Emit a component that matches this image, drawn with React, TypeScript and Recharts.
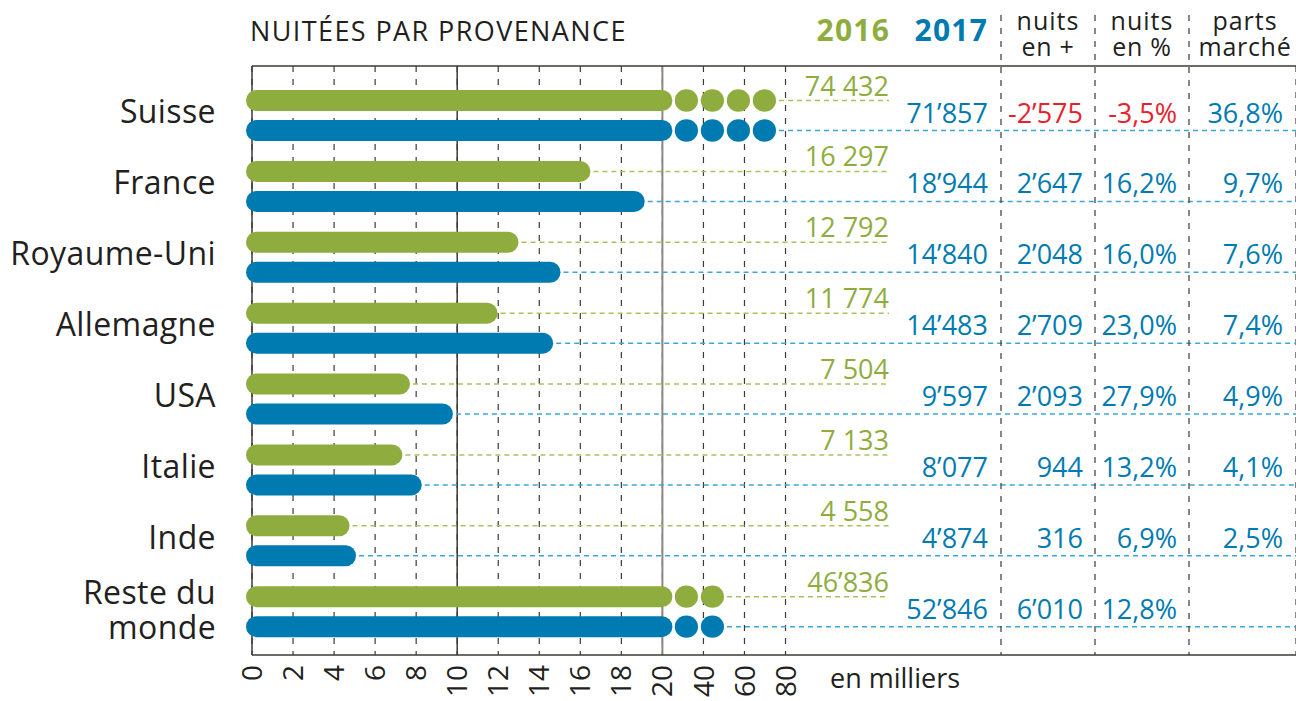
import React from 'react';
import { BarChart, Bar, XAxis, YAxis, CartesianGrid } from 'recharts';

// ---------- data ----------
const categories = ['Suisse', 'France', 'Royaume-Uni', 'Allemagne', 'USA', 'Italie', 'Inde', 'Reste du monde'];
const nights2016 = [74432, 16297, 12792, 11774, 7504, 7133, 4558, 46836];
const nights2017 = [71857, 18944, 14840, 14483, 9597, 8077, 4874, 52846];
const labels2016 = ['74 432', '16 297', '12 792', '11 774', '7 504', '7 133', '4 558', '46’836'];
const diffNights = [-2575, 2647, 2048, 2709, 2093, 944, 316, 6010];
const diffPct = [-3.5, 16.2, 16.0, 23.0, 27.9, 13.2, 6.9, 12.8];
const marketShare: (number | null)[] = [36.8, 9.7, 7.6, 7.4, 4.9, 4.1, 2.5, null];
const axisTicksK = [0, 2, 4, 6, 8, 10, 12, 14, 16, 18, 20, 40, 60, 80]; // thousands
const solidDarkK = [0, 10];
const solidGrayK = [20];

// ---------- styling ----------
const W = 1296;
const H = 701;
const GREEN = '#8fad3e';
const GREEN_LIGHT = '#a9c25e';
const BLUE = '#007bb1';
const BLUE_LIGHT = '#3aa7d6';
const RED = '#e8222c';
const DARK = '#231f20';
const LINE = '#3d3935';
const FONT = '"Open Sans", "Noto Sans", sans-serif';
const PLOT_LEFT = 252;
const PX_PER_UNIT = 20.52;
const DMAX = (W - PLOT_LEFT) / PX_PER_UNIT;
const BREAK = 20;

// broken axis: linear to 20k, then 1/10 scale
const tr = (k: number) => (k <= BREAK ? k : BREAK + (k - BREAK) / 10);

const fmtApos = (n: number) => {
  const s = Math.abs(n).toString();
  const parts: string[] = [];
  for (let i = s.length; i > 0; i -= 3) parts.unshift(s.slice(Math.max(0, i - 3), i));
  return (n < 0 ? '-' : '') + parts.join('’');
};
const fmtPct = (p: number) => p.toFixed(1).replace('.', ',') + '%';

const data = categories.map((name, i) => ({
  name,
  t2016: tr(nights2016[i] / 1000),
  t2017: tr(nights2017[i] / 1000),
  lab2016: labels2016[i],
  lab2017: fmtApos(nights2017[i]),
  diff: fmtApos(diffNights[i]),
  pct: fmtPct(diffPct[i]),
  neg: diffNights[i] < 0,
  share: marketShare[i] == null ? '' : fmtPct(marketShare[i] as number),
}));

const TICKS = axisTicksK.map(tr);

const PillBar = (props: any) => {
  const { x, y, width, height, payload, series } = props;
  const is16 = series === '2016';
  const tv: number = is16 ? payload.t2016 : payload.t2017;
  const color = is16 ? GREEN : BLUE;
  const cy = y + height / 2;
  const r = height / 2;
  const ppu = tv > 0 ? width / tv : 0;
  const xEnd = x + width;
  const left = x - 6;
  const shapes: React.ReactNode[] = [];
  let tailEnd: number;
  if (tv <= BREAK) {
    const right = xEnd + 4;
    shapes.push(<rect key="b" x={left} y={y} width={right - left} height={height} rx={r} ry={r} fill={color} />);
    tailEnd = right;
  } else {
    const x20 = x + BREAK * ppu;
    const barRight = x20 + 10;
    shapes.push(<rect key="b" x={left} y={y} width={barRight - left} height={height} rx={r} ry={r} fill={color} />);
    const step = 26;
    const n = Math.max(1, Math.round((xEnd - barRight) / step));
    for (let k = 0; k < n; k++) {
      shapes.push(<ellipse key={'d' + k} cx={barRight + 14 + k * step} cy={cy} rx={11.6} ry={11.2} fill={color} />);
    }
    tailEnd = barRight + 14 + (n - 1) * step + 11.6;
  }
  const leaderEnd = is16 ? 889 : W;
  const txt = (key: string, tx: number, s: string, fill: string) => (
    <text key={key} x={tx} y={cy - (is16 ? 5 : 8)} textAnchor="end" fill={fill} fontSize={27} fontFamily={FONT}>
      {s}
    </text>
  );
  return (
    <g>
      <line x1={tailEnd + 3} x2={leaderEnd} y1={cy} y2={cy} stroke={is16 ? GREEN_LIGHT : BLUE_LIGHT} strokeWidth={1.5} strokeDasharray="5 4" />
      {shapes}
      {is16
        ? txt('v', 889, payload.lab2016, GREEN)
        : [
            txt('v', 988, payload.lab2017, BLUE),
            txt('d', 1083, payload.diff, payload.neg ? RED : BLUE),
            txt('p', 1177, payload.pct, payload.neg ? RED : BLUE),
            txt('s', 1283, payload.share, BLUE),
          ]}
    </g>
  );
};

const CatTick = (props: any) => {
  const { y, payload } = props;
  const v: string = payload.value;
  const lines = v.length > 12 ? [v.slice(0, v.lastIndexOf(' ')), v.slice(v.lastIndexOf(' ') + 1)] : [v];
  if (lines.length === 1) {
    return (
      <text x={216} y={y + 8} textAnchor="end" fill={DARK} fontSize={32} fontFamily={FONT} letterSpacing={0.4}>
        {v}
      </text>
    );
  }
  return (
    <text x={216} y={y - 8} textAnchor="end" fill={DARK} fontSize={32} fontFamily={FONT} letterSpacing={0.4}>
      <tspan x={216}>{lines[0]}</tspan>
      <tspan x={216} dy={35}>{lines[1]}</tspan>
    </text>
  );
};

const XTick = (props: any) => {
  const { x, index } = props;
  const ty = 665;
  return (
    <text
      x={x}
      y={ty}
      dy="0.36em"
      transform={`rotate(-90, ${x}, ${ty})`}
      textAnchor="end"
      fill={DARK}
      fontSize={28}
      fontFamily={FONT}
    >
      {axisTicksK[index]}
    </text>
  );
};

const gridGen = (vals: number[]) => (args: any) => {
  const { xAxis, offset } = args;
  return vals.map((k) => {
    const t = tr(k);
    if (xAxis && typeof xAxis.scale === 'function') return xAxis.scale(t);
    return offset.left + (t / DMAX) * offset.width;
  });
};

export default function App() {
  return (
    <div style={{ position: 'absolute', left: 0, top: 0, width: W, height: H, background: '#fff' }}>
      <BarChart
        width={W}
        height={H}
        data={data}
        layout="vertical"
        margin={{ top: 66, right: 0, bottom: 0, left: 0 }}
        barGap={9}
        barSize={21}
      >
        <CartesianGrid horizontal={false} vertical stroke={LINE} strokeWidth={1.2} strokeDasharray="6 7" />
        <CartesianGrid horizontal={false} vertical stroke={LINE} strokeWidth={1.5} verticalCoordinatesGenerator={gridGen(solidDarkK)} />
        <CartesianGrid horizontal={false} vertical stroke="#8c8782" strokeWidth={2} verticalCoordinatesGenerator={gridGen(solidGrayK)} />
        <XAxis
          type="number"
          domain={[0, DMAX]}
          ticks={TICKS}
          interval={0}
          tick={<XTick />}
          tickLine={false}
          axisLine={{ stroke: LINE, strokeWidth: 1.5 }}
          height={46}
        />
        <YAxis
          type="category"
          dataKey="name"
          width={PLOT_LEFT}
          interval={0}
          axisLine={false}
          tickLine={false}
          tick={<CatTick />}
          padding={{ top: 14, bottom: 8 }}
        />
        <Bar dataKey="t2016" fill={GREEN} isAnimationActive={false} shape={<PillBar series="2016" />} />
        <Bar dataKey="t2017" fill={BLUE} isAnimationActive={false} shape={<PillBar series="2017" />} />
      </BarChart>
      <svg width={W} height={H} style={{ position: 'absolute', left: 0, top: 0, pointerEvents: 'none' }}>
        <line x1={PLOT_LEFT} x2={W} y1={66} y2={66} stroke={LINE} strokeWidth={1.5} />
        {[1001, 1095, 1189].map((cx) => (
          <line key={cx} x1={cx} x2={cx} y1={15} y2={655} stroke={LINE} strokeWidth={1.2} strokeDasharray="6 7" />
        ))}
        <text x={250} y={41} fill={DARK} fontSize={27} fontFamily={FONT} letterSpacing={1.4}>
          NUITÉES PAR PROVENANCE
        </text>
        <text x={890} y={41} textAnchor="end" fill={GREEN} fontSize={30} fontWeight={700} fontFamily={FONT} letterSpacing={1.2}>
          2016
        </text>
        <text x={988} y={41} textAnchor="end" fill={BLUE} fontSize={30} fontWeight={700} fontFamily={FONT} letterSpacing={1.2}>
          2017
        </text>
        {[
          [1048, 'nuits', 'en +'],
          [1142, 'nuits', 'en %'],
          [1245, 'parts', 'marché'],
        ].map(([cx, a, b]) => (
          <g key={a + b}>
            <text x={cx as number} y={30} textAnchor="middle" fill={DARK} fontSize={25} fontFamily={FONT} letterSpacing={1}>
              {a}
            </text>
            <text x={cx as number} y={56} textAnchor="middle" fill={DARK} fontSize={25} fontFamily={FONT} letterSpacing={0.7}>
              {b}
            </text>
          </g>
        ))}
        <text x={830} y={688} fill={DARK} fontSize={27} fontFamily={FONT}>
          en milliers
        </text>
      </svg>
    </div>
  );
}
